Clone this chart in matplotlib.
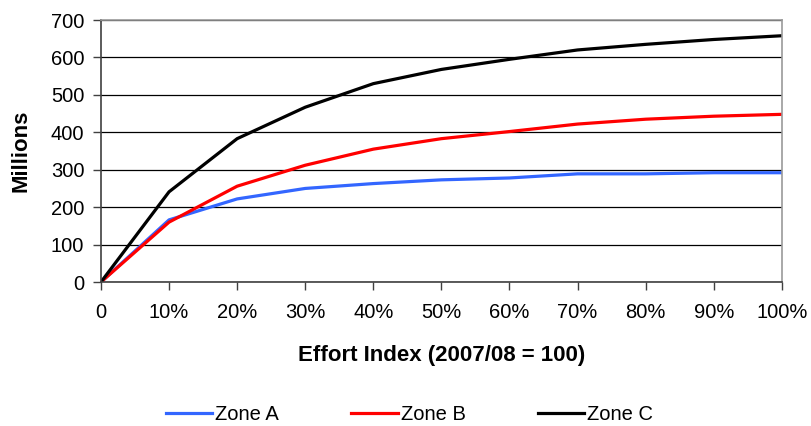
import matplotlib
matplotlib.use("Agg")
import matplotlib.pyplot as plt

# effort levels (fraction of 2007/08 effort)
effort = [0, 10, 20, 30, 40, 50, 60, 70, 80, 90, 100]
tick_labels = ["0"] + [f"{v}%" for v in effort[1:]]

# catch value, millions
zone_a = [0, 166, 222, 250, 263, 273, 278, 289, 289, 292, 292]
zone_b = [0, 160, 256, 312, 355, 383, 402, 422, 435, 443, 448]
zone_c = [0, 241, 383, 467, 530, 568, 595, 620, 635, 648, 658]

plt.rcParams['font.family'] = ['Liberation Sans', 'DejaVu Sans']

fig = plt.figure(figsize=(8.11, 4.26), dpi=100)
ax = fig.add_axes([0.1245, 0.338, 0.8395, 0.615])

ax.plot(effort, zone_a, color='#3366ff', linewidth=2.3, label='Zone A')
ax.plot(effort, zone_b, color='#ff0000', linewidth=2.3, label='Zone B')
ax.plot(effort, zone_c, color='#000000', linewidth=2.3, label='Zone C')

ax.set_xlim(0, 100)
ax.set_ylim(0, 700)
ax.set_xticks(effort)
ax.set_xticklabels(tick_labels)
ax.set_yticks(range(0, 701, 100))
ax.tick_params(labelsize=14.5, length=6, width=1, color='#404040', direction='out')
ax.tick_params(axis='x', pad=9)
ax.tick_params(axis='y', pad=6)

ax.yaxis.grid(True, color='black', linewidth=0.9)
ax.set_axisbelow(True)

for side in ['top', 'right']:
    ax.spines[side].set_color('#999999')
    ax.spines[side].set_linewidth(1.2)
for side in ['left', 'bottom']:
    ax.spines[side].set_color('#404040')
    ax.spines[side].set_linewidth(1.2)

ax.set_xlabel("Effort Index (2007/08 = 100)", fontsize=16, fontweight='bold', labelpad=17)
ax.set_ylabel("Millions", fontsize=16, fontweight='bold', labelpad=14)

fig.legend(loc='center', bbox_to_anchor=(0.505, 0.028), ncol=3, frameon=False,
           fontsize=14.5, handlelength=2.3, handletextpad=0.15, columnspacing=3.6)

fig.savefig("out.png", dpi=100)
